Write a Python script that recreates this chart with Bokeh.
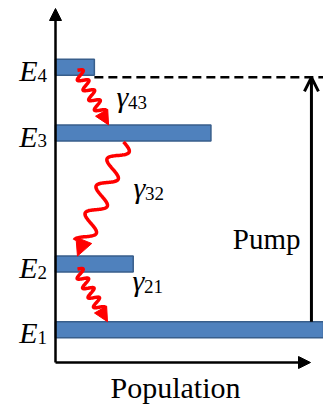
import numpy as np
from bokeh.plotting import figure
from bokeh.models import Range1d, Arrow, NormalHead, OpenHead
from bokeh.core.properties import value
from bokeh.embed import file_html
from bokeh.resources import INLINE

# ---- data -------------------------------------------------------------
level_names = ["E", "E", "E", "E"]
level_subs = ["1", "2", "3", "4"]
energies = [1.0, 3.0, 7.0, 9.0]            # energy of each level (arb. units)
populations = [1.0, 0.29, 0.58, 0.145]     # population of each level (arb. units)
decay_from = [3, 2, 1]                     # level index
decay_to = [2, 1, 0]
decay_x_start = [0.082, 0.254, 0.082]      # population-axis position of decay arrows
decay_x_end = [0.198, 0.082, 0.194]
decay_labels = ["43", "32", "21"]
pump_x = 0.955
pump_label = "Pump"
x_label = "Population"

# ---- layout -----------------------------------------------------------
W, H = 323, 406
PX_X, PX_Y = 268.0, 32.8          # pixels per data unit
OX, OY = 55, 362                  # origin in figure pixels
FONT = value("Liberation Serif")
ASC = 0.891                       # ascent of Liberation Serif (em)

def dx(px):
    return px / PX_X

def dy(px):
    return px / PX_Y

p = figure(width=W, height=H,
           x_range=Range1d(-OX / PX_X, (W - OX) / PX_X),
           y_range=Range1d(-(H - OY) / PX_Y, OY / PX_Y),
           output_backend="svg", toolbar_location=None,
           x_axis_location=None, y_axis_location=None, min_border=0)
p.grid.visible = False
p.outline_line_color = None
p.background_fill_color = "white"


def label(xs, ys_baseline, texts, size, align="left", italic=False):
    """Place text so that its alphabetic baseline lies at ys_baseline."""
    p.text(x=xs, y=[y + dy(ASC * size) for y in ys_baseline], text=texts,
           text_font=FONT, text_font_size=f"{size}px",
           text_font_style="italic" if italic else "normal",
           text_align=align, text_baseline="top", text_color="black")


BAR_H = 16
# levels
p.hbar(y=energies, left=0, right=populations, height=dy(BAR_H),
       fill_color="#4F81BD", line_color="#385E8B", line_width=1.5)

# axes as arrows
p.add_layout(Arrow(end=NormalHead(size=12, fill_color="black", line_color="black"),
                   x_start=0, y_start=0, x_end=0, y_end=dy(OY - 8),
                   line_width=2.5, line_color="black"))
p.add_layout(Arrow(end=NormalHead(size=12, fill_color="black", line_color="black"),
                   x_start=0, y_start=0, x_end=dx(255), y_end=0,
                   line_width=2.5, line_color="black"))

# dashed pump level
dash_y = energies[3] - dy(10)
p.line(x=[populations[3], (W - OX) / PX_X], y=[dash_y, dash_y],
       line_dash="9 5", line_width=2.5, line_color="black")

# pump arrow
p.add_layout(Arrow(end=OpenHead(size=14, line_width=3, line_color="black"),
                   x_start=pump_x, y_start=energies[0] + dy(BAR_H / 2),
                   x_end=pump_x, y_end=dash_y,
                   line_width=3, line_color="black"))
label([pump_x - dx(11)], [energies[0] + dy(81)], [pump_label], 29, align="right")

# x label
label([dx(120)], [-dy(35)], [x_label], 30, align="center")

# level labels
label([-dx(18)] * 4, [e - dy(13.5) for e in energies], level_names, 30,
      align="right", italic=True)
label([-dx(18)] * 4, [e - dy(18.5) for e in energies], level_subs, 19)

# decay wavy arrows
start_off = [3, 9, 5]
periods = [4.5, 3.75, 4.5]
amps = [5, 9, 5]
heads = [14, 17, 14]
for i in range(3):
    # work in pixel space (y up), then convert
    sx, sy = decay_x_start[i] * PX_X, energies[decay_from[i]] * PX_Y - start_off[i]
    ex, ey = decay_x_end[i] * PX_X, energies[decay_to[i]] * PX_Y + BAR_H / 2
    vx, vy = ex - sx, ey - sy
    L = np.hypot(vx, vy)
    ux, uy = vx / L, vy / L
    nx, ny = -uy, ux
    t = np.linspace(0, 1, 200)
    wl = L - heads[i] * 0.8
    off = amps[i] * np.sin(2 * np.pi * periods[i] * t)
    px = sx + ux * wl * t + nx * off
    py = sy + uy * wl * t + ny * off
    p.line(x=px / PX_X, y=py / PX_Y, line_color="#FF0000", line_width=3.5)
    bx, by = sx + ux * wl, sy + uy * wl
    p.add_layout(Arrow(end=NormalHead(size=heads[i], fill_color="#FF0000",
                                      line_color="#FF0000", line_width=1),
                       x_start=bx / PX_X, y_start=by / PX_Y,
                       x_end=ex / PX_X, y_end=ey / PX_Y,
                       line_color="#FF0000", line_width=3.5))

# decay rate labels (gamma)
gx = [dx(61), dx(78), dx(77)]
gy = [energies[2] + dy(26), energies[1] + dy(66), energies[0] + dy(39)]
label(gx, gy, ["γ"] * 3, 30, italic=True)
label([g + dx(11.5) for g in gx], [g - dy(6) for g in gy], decay_labels, 19)

open("out.html", "w").write(file_html(p, INLINE))
